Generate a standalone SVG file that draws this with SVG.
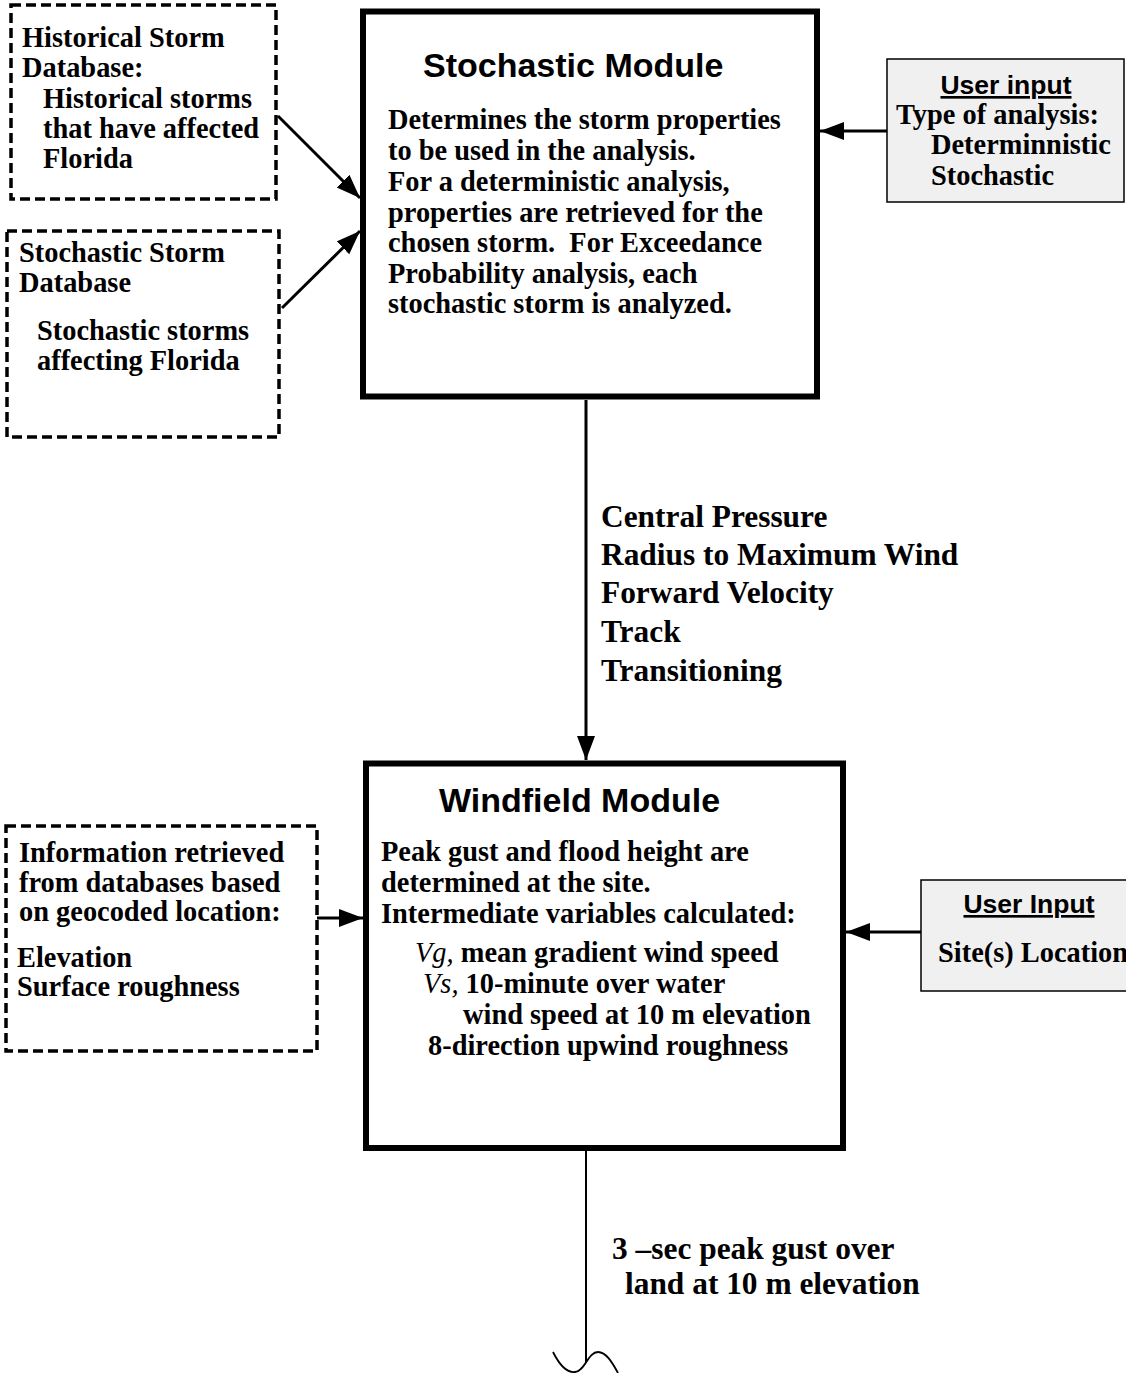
<svg xmlns="http://www.w3.org/2000/svg" width="1126" height="1373" viewBox="0 0 1126 1373">
<style>
.t{font-family:"Liberation Serif","Times New Roman",serif;font-weight:bold;font-size:28.4px;fill:#000}
.big{font-size:31.4px}
.h{font-family:"Liberation Sans",Arial,sans-serif;font-weight:bold;font-size:34px;fill:#000}
.u{font-family:"Liberation Sans",Arial,sans-serif;font-weight:bold;font-size:26.5px;fill:#000;text-decoration:underline}
.it{font-style:italic;font-weight:normal}
.mod{fill:#fff;stroke:#000;stroke-width:6}
.db{fill:#fff;stroke:#000;stroke-width:3.5;stroke-dasharray:10 5}
.ui{fill:#f0f0f0;stroke:#000;stroke-width:1.5}
.c{fill:none;stroke:#000;stroke-width:3}
</style>
<defs>
<marker id="ah" markerUnits="userSpaceOnUse" markerWidth="26" markerHeight="20" refX="24" refY="9" orient="auto">
<path d="M0,0 L24,9 L0,18 Z" fill="#000"/>
</marker>
</defs>
<rect width="1126" height="1373" fill="#fff"/>

<g id="connectors">
<line class="c" x1="278" y1="116" x2="360" y2="198" marker-end="url(#ah)"/>
<line class="c" x1="282" y1="308" x2="360" y2="231" marker-end="url(#ah)"/>
<line class="c" x1="887" y1="131" x2="820" y2="131" marker-end="url(#ah)"/>
<line class="c" x1="586" y1="400" x2="586" y2="760" marker-end="url(#ah)"/>
<line class="c" x1="317" y1="918" x2="363" y2="918" marker-end="url(#ah)"/>
<line class="c" x1="921" y1="932" x2="846" y2="932" marker-end="url(#ah)"/>
<path d="M586,1151 L586,1362" fill="none" stroke="#000" stroke-width="2"/>
<path d="M553,1352 C560,1366 567,1373 575,1372 C585,1371 588,1352 598,1352 C606,1352 612,1362 618,1373" fill="none" stroke="#000" stroke-width="1.8"/>
</g>

<g id="historical-db">
<rect class="db" x="11" y="5" width="265" height="194"/>
<text class="t" x="22" y="47">Historical Storm</text>
<text class="t" x="22" y="77">Database:</text>
<text class="t" x="43" y="108">Historical storms</text>
<text class="t" x="43" y="138">that have affected</text>
<text class="t" x="43" y="168">Florida</text>
</g>

<g id="stochastic-db">
<rect class="db" x="7" y="231" width="272" height="206"/>
<text class="t" x="19" y="262">Stochastic Storm</text>
<text class="t" x="19" y="292">Database</text>
<text class="t" x="37" y="340">Stochastic storms</text>
<text class="t" x="37" y="370">affecting Florida</text>
</g>

<g id="stochastic-module">
<rect class="mod" x="363" y="11.5" width="454" height="385"/>
<text class="h" x="423" y="77">Stochastic Module</text>
<text class="t" x="388" y="129">Determines the storm properties</text>
<text class="t" x="388" y="160">to be used in the analysis.</text>
<text class="t" x="388" y="191">For a deterministic analysis,</text>
<text class="t" x="388" y="222">properties are retrieved for the</text>
<text class="t" x="388" y="252" xml:space="preserve">chosen storm.  For Exceedance</text>
<text class="t" x="388" y="283">Probability analysis, each</text>
<text class="t" x="388" y="313">stochastic storm is analyzed.</text>
</g>

<g id="user-input-analysis">
<rect class="ui" x="887" y="59" width="237" height="143"/>
<text class="u" x="1006" y="94" text-anchor="middle">User input</text>
<text class="t" x="896" y="124">Type of analysis:</text>
<text class="t" x="931" y="154">Determinnistic</text>
<text class="t" x="931" y="185">Stochastic</text>
</g>

<g id="storm-properties">
<text class="t big" x="601" y="527">Central Pressure</text>
<text class="t big" x="601" y="565">Radius to Maximum Wind</text>
<text class="t big" x="601" y="603">Forward Velocity</text>
<text class="t big" x="601" y="642">Track</text>
<text class="t big" x="601" y="681">Transitioning</text>
</g>

<g id="windfield-module">
<rect class="mod" x="366" y="763.5" width="477" height="384.5"/>
<text class="h" x="439" y="812">Windfield Module</text>
<text class="t" x="381" y="861">Peak gust and flood height are</text>
<text class="t" x="381" y="892">determined at the site.</text>
<text class="t" x="381" y="923">Intermediate variables calculated:</text>
<text class="t" x="415" y="962"><tspan class="it">Vg,</tspan> mean gradient wind speed</text>
<text class="t" x="423" y="993"><tspan class="it">Vs,</tspan> 10-minute over water</text>
<text class="t" x="463" y="1024">wind speed at 10 m elevation</text>
<text class="t" x="428" y="1055">8-direction upwind roughness</text>
</g>

<g id="location-info">
<rect class="db" x="6" y="826" width="311" height="225"/>
<text class="t" x="19" y="862">Information retrieved</text>
<text class="t" x="19" y="892">from databases based</text>
<text class="t" x="19" y="921">on geocoded location:</text>
<text class="t" x="17" y="967">Elevation</text>
<text class="t" x="17" y="996">Surface roughness</text>
</g>

<g id="user-input-site">
<rect class="ui" x="921" y="880" width="210" height="111"/>
<text class="u" x="1029" y="913" text-anchor="middle">User Input</text>
<text class="t" x="938" y="962">Site(s) Location</text>
</g>

<g id="output-label">
<text class="t big" x="612" y="1259">3 –sec peak gust over</text>
<text class="t big" x="625" y="1294">land at 10 m elevation</text>
</g>
</svg>
